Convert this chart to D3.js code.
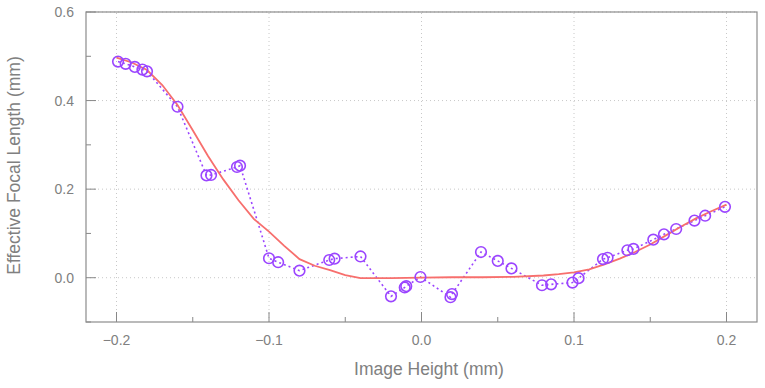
<!DOCTYPE html>
<html>
<head>
<meta charset="utf-8">
<script src="https://cdn.jsdelivr.net/npm/d3@7"></script>
<style>
  body { margin: 0; background: #fff; }
  text { font-family: "Liberation Sans", Arial, sans-serif; fill: #808080; }
</style>
</head>
<body>
<div id="chart"></div>
<script>
// measured points (image height, effective focal length)
const measX = [-0.199, -0.194, -0.188, -0.183, -0.180, -0.160, -0.141, -0.138, -0.121, -0.119,
  -0.100, -0.094, -0.080, -0.0605, -0.057, -0.040, -0.020, -0.011, -0.010, -0.0007,
  0.019, 0.020, 0.039, 0.050, 0.059, 0.079, 0.085, 0.099, 0.103, 0.119, 0.122,
  0.135, 0.139, 0.152, 0.159, 0.167, 0.179, 0.186, 0.199];
const measY = [0.488, 0.483, 0.476, 0.470, 0.466, 0.386, 0.231, 0.232, 0.250, 0.253,
  0.044, 0.035, 0.016, 0.040, 0.043, 0.048, -0.042, -0.022, -0.019, 0.0016,
  -0.044, -0.037, 0.058, 0.038, 0.021, -0.017, -0.015, -0.011, -0.001, 0.042, 0.045,
  0.062, 0.065, 0.086, 0.098, 0.110, 0.129, 0.140, 0.160];

// fitted curve
const fitX = [-0.2, -0.19, -0.18, -0.17, -0.16, -0.15, -0.14, -0.13, -0.12, -0.11, -0.10,
  -0.09, -0.08, -0.07, -0.06, -0.05, -0.04, -0.02, 0.0, 0.02, 0.04, 0.06, 0.08, 0.09,
  0.10, 0.11, 0.12, 0.13, 0.14, 0.15, 0.16, 0.17, 0.18, 0.19, 0.20];
const fitY = [0.497, 0.486, 0.469, 0.435, 0.390, 0.333, 0.275, 0.222, 0.175, 0.133, 0.104,
  0.072, 0.042, 0.027, 0.017, 0.006, -0.001, -0.001, 0.0, 0.001, 0.001, 0.002, 0.005, 0.008,
  0.012, 0.019, 0.030, 0.043, 0.058, 0.075, 0.095, 0.115, 0.134, 0.150, 0.165];

const xMajor = [-0.2, -0.1, 0.0, 0.1, 0.2];
const xMinor = [-0.15, -0.05, 0.05, 0.15];
const yMajor = [0.0, 0.2, 0.4, 0.6];
const yMinor = [-0.1, 0.1, 0.3, 0.5];

const width = 765, height = 388;
const margin = { left: 86, right: 8, top: 12, bottom: 66 };

const svg = d3.select("#chart").append("svg")
  .attr("width", width).attr("height", height);

const x = d3.scaleLinear().domain([-0.22, 0.22]).range([margin.left, width - margin.right]);
const y = d3.scaleLinear().domain([-0.1, 0.6]).range([height - margin.bottom, margin.top]);

const [x0, x1] = x.range();
const [y0, y1] = y.range();

// grid
const grid = svg.append("g").attr("stroke", "#c8c8c8").attr("stroke-dasharray", "1,3");
grid.selectAll(".gx").data(xMajor).enter().append("line")
  .attr("x1", d => x(d)).attr("x2", d => x(d)).attr("y1", y0).attr("y2", y1);
grid.selectAll(".gy").data(yMajor).enter().append("line")
  .attr("x1", x0).attr("x2", x1).attr("y1", d => y(d)).attr("y2", d => y(d));

// ticks pointing inward
const ticks = svg.append("g").attr("stroke", "#888").attr("stroke-width", 1);
ticks.selectAll(".tx").data(xMajor.map(v => [v, 10]).concat(xMinor.map(v => [v, 5]))).enter().append("line")
  .attr("x1", d => x(d[0])).attr("x2", d => x(d[0])).attr("y1", y0).attr("y2", d => y0 - d[1]);
ticks.selectAll(".ty").data(yMajor.map(v => [v, 10]).concat(yMinor.map(v => [v, 5]))).enter().append("line")
  .attr("y1", d => y(d[0])).attr("y2", d => y(d[0])).attr("x1", x0).attr("x2", d => x0 + d[1]);

// frame
svg.append("rect")
  .attr("x", x0).attr("y", y1).attr("width", x1 - x0).attr("height", y0 - y1)
  .attr("fill", "none").attr("stroke", "#8c8c8c").attr("stroke-width", 1.2);

// tick labels
svg.selectAll(".xl").data(xMajor).enter().append("text")
  .attr("x", d => x(d)).attr("y", y0 + 23)
  .attr("text-anchor", "middle").attr("font-size", 14)
  .text(d => d3.format(".1f")(d));
svg.selectAll(".yl").data(yMajor).enter().append("text")
  .attr("x", x0 - 12).attr("y", d => y(d) + 5)
  .attr("text-anchor", "end").attr("font-size", 14)
  .text(d => d3.format(".1f")(d));

// axis titles
svg.append("text")
  .attr("x", 429).attr("y", 375)
  .attr("text-anchor", "middle").attr("font-size", 17.5)
  .text("Image Height (mm)");
svg.append("text")
  .attr("transform", "translate(20,165.5) rotate(-90)")
  .attr("text-anchor", "middle").attr("font-size", 17.5)
  .text("Effective Focal Length (mm)");

const meas = measX.map((v, i) => [v, measY[i]]);
const fit = fitX.map((v, i) => [v, fitY[i]]);
const line = d3.line().x(d => x(d[0])).y(d => y(d[1]));

svg.append("path").datum(meas)
  .attr("d", line).attr("fill", "none")
  .attr("stroke", "#9b45ff").attr("stroke-width", 1.6).attr("stroke-dasharray", "2,3");

svg.append("path").datum(fit)
  .attr("d", line).attr("fill", "none")
  .attr("stroke", "#f76f6d").attr("stroke-width", 1.8);

svg.selectAll(".pt").data(meas).enter().append("circle")
  .attr("cx", d => x(d[0])).attr("cy", d => y(d[1])).attr("r", 5.3)
  .attr("fill", "none").attr("stroke", "#9b45ff").attr("stroke-width", 1.6);
</script>
</body>
</html>
